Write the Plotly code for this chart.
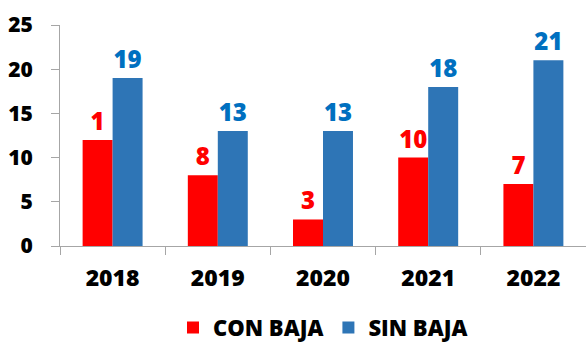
import plotly.graph_objects as go

years = ["2018", "2019", "2020", "2021", "2022"]
con_baja = [12, 8, 3, 10, 7]
# Printed labels for CON BAJA; the 2018 one reads "1" even though its bar is 12.
con_baja_labels = ["1", "8", "3", "10", "7"]
sin_baja = [19, 13, 13, 18, 21]
sin_baja_labels = ["19", "13", "13", "18", "21"]

FONT = "Open Sans"
W = 800
RED = "#FF0000"
BLUE = "#2E75B6"
BLUE_TXT = "#0070C0"

fig = go.Figure()
fig.add_trace(go.Bar(
    x=years, y=con_baja, name="CON BAJA",
    marker=dict(color=RED, line=dict(width=0)),
    text=con_baja_labels, textposition="outside", constraintext="none",
    textfont=dict(family=FONT, size=24, color=RED, weight=W),
    cliponaxis=False,
))
fig.add_trace(go.Bar(
    x=years, y=sin_baja, name="SIN BAJA",
    marker=dict(color=BLUE, line=dict(width=0)),
    text=sin_baja_labels, textposition="outside", constraintext="none",
    textfont=dict(family=FONT, size=24, color=BLUE_TXT, weight=W),
    cliponaxis=False,
))

fig.update_layout(
    width=586, height=345,
    margin=dict(l=60, r=0, t=25, b=99),
    paper_bgcolor="white", plot_bgcolor="white",
    barmode="group", bargap=0.43, bargroupgap=0,
    font=dict(family=FONT, color="black"),
    showlegend=True,
    legend=dict(
        orientation="h", x=0.5, xanchor="center",
        yref="container", y=0.05, yanchor="middle",
        font=dict(family=FONT, size=22, color="black", weight=W),
        itemclick=False,
    ),
    xaxis=dict(
        showline=True, linecolor="#A6A6A6", linewidth=1,
        ticks="outside", tickson="boundaries", ticklen=8, tickcolor="#A6A6A6",
        tickfont=dict(family=FONT, size=23, color="black", weight=W),
        ticklabelstandoff=11,
        showgrid=False, zeroline=False,
    ),
    yaxis=dict(
        range=[0, 25], dtick=5,
        showline=True, linecolor="#A6A6A6", linewidth=1,
        ticks="outside", ticklen=8, tickcolor="#A6A6A6",
        tickfont=dict(family=FONT, size=21, color="black", weight=W),
        ticklabelstandoff=14,
        showgrid=False, zeroline=False,
    ),
)

fig.write_html("out.html")
